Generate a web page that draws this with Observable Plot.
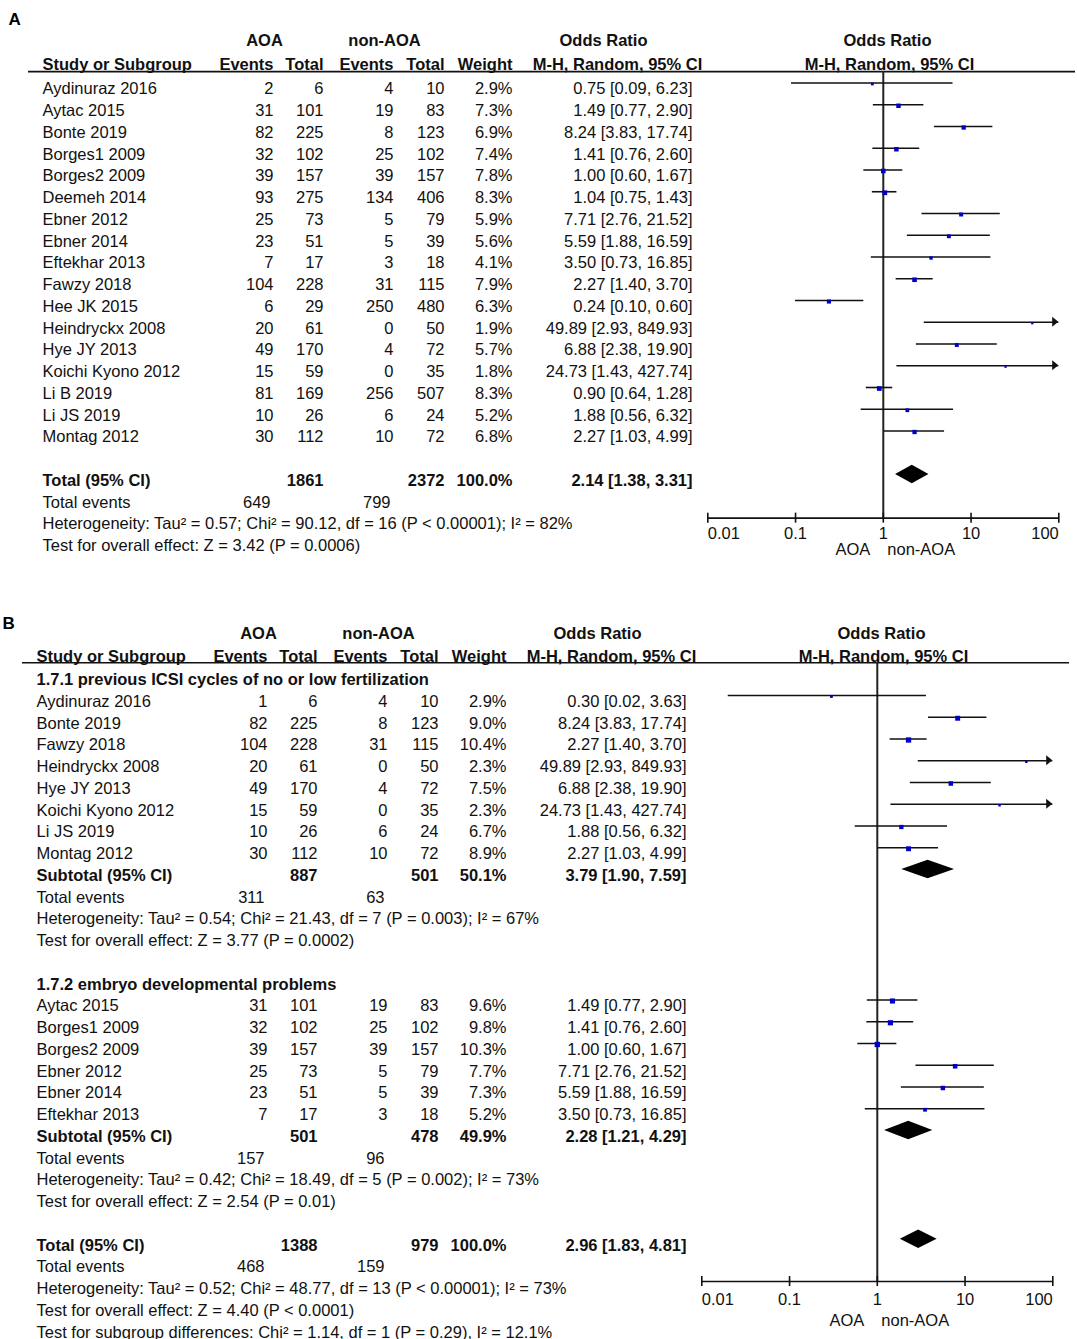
<!DOCTYPE html>
<html><head><meta charset="utf-8">
<script src="https://cdn.jsdelivr.net/npm/d3@7"></script>
<script src="https://cdn.jsdelivr.net/npm/@observablehq/plot@0.6"></script>
<style>
body{margin:0;background:#fff;}
#root{position:relative;width:1077px;height:1339px;overflow:hidden;}
.layer{position:absolute;}
.layer svg{display:block;}
</style></head><body><div id="root"></div>
<script>
// ---------------- DATA ----------------
// Panel A
const studiesA = ["Aydinuraz 2016","Aytac 2015","Bonte 2019","Borges1 2009","Borges2 2009","Deemeh 2014","Ebner 2012","Ebner 2014","Eftekhar 2013","Fawzy 2018","Hee JK 2015","Heindryckx 2008","Hye JY 2013","Koichi Kyono 2012","Li B 2019","Li JS 2019","Montag 2012"];
const aoaEventsA = [2,31,82,32,39,93,25,23,7,104,6,20,49,15,81,10,30];
const aoaTotalA  = [6,101,225,102,157,275,73,51,17,228,29,61,170,59,169,26,112];
const nonEventsA = [4,19,8,25,39,134,5,5,3,31,250,0,4,0,256,6,10];
const nonTotalA  = [10,83,123,102,157,406,79,39,18,115,480,50,72,35,507,24,72];
const weightA    = [2.9,7.3,6.9,7.4,7.8,8.3,5.9,5.6,4.1,7.9,6.3,1.9,5.7,1.8,8.3,5.2,6.8];
const orA        = [0.75,1.49,8.24,1.41,1.00,1.04,7.71,5.59,3.50,2.27,0.24,49.89,6.88,24.73,0.90,1.88,2.27];
const lowerA     = [0.09,0.77,3.83,0.76,0.60,0.75,2.76,1.88,0.73,1.40,0.10,2.93,2.38,1.43,0.64,0.56,1.03];
const upperA     = [6.23,2.90,17.74,2.60,1.67,1.43,21.52,16.59,16.85,3.70,0.60,849.93,19.90,427.74,1.28,6.32,4.99];
const totalA = {total1:1861, total2:2372, weight:100.0, or:2.14, lo:1.38, hi:3.31, events1:649, events2:799};
const hetA  = "Heterogeneity: Tau² = 0.57; Chi² = 90.12, df = 16 (P < 0.00001); I² = 82%";
const testA = "Test for overall effect: Z = 3.42 (P = 0.0006)";

// Panel B, subgroup 1.7.1
const groupB1 = "1.7.1 previous ICSI cycles of no or low fertilization";
const studiesB1 = ["Aydinuraz 2016","Bonte 2019","Fawzy 2018","Heindryckx 2008","Hye JY 2013","Koichi Kyono 2012","Li JS 2019","Montag 2012"];
const aoaEventsB1 = [1,82,104,20,49,15,10,30];
const aoaTotalB1  = [6,225,228,61,170,59,26,112];
const nonEventsB1 = [4,8,31,0,4,0,6,10];
const nonTotalB1  = [10,123,115,50,72,35,24,72];
const weightB1    = [2.9,9.0,10.4,2.3,7.5,2.3,6.7,8.9];
const orB1        = [0.30,8.24,2.27,49.89,6.88,24.73,1.88,2.27];
const lowerB1     = [0.02,3.83,1.40,2.93,2.38,1.43,0.56,1.03];
const upperB1     = [3.63,17.74,3.70,849.93,19.90,427.74,6.32,4.99];
const subB1 = {total1:887, total2:501, weight:50.1, or:3.79, lo:1.90, hi:7.59, events1:311, events2:63};
const hetB1  = "Heterogeneity: Tau² = 0.54; Chi² = 21.43, df = 7 (P = 0.003); I² = 67%";
const testB1 = "Test for overall effect: Z = 3.77 (P = 0.0002)";

// Panel B, subgroup 1.7.2
const groupB2 = "1.7.2 embryo developmental problems";
const studiesB2 = ["Aytac 2015","Borges1 2009","Borges2 2009","Ebner 2012","Ebner 2014","Eftekhar 2013"];
const aoaEventsB2 = [31,32,39,25,23,7];
const aoaTotalB2  = [101,102,157,73,51,17];
const nonEventsB2 = [19,25,39,5,5,3];
const nonTotalB2  = [83,102,157,79,39,18];
const weightB2    = [9.6,9.8,10.3,7.7,7.3,5.2];
const orB2        = [1.49,1.41,1.00,7.71,5.59,3.50];
const lowerB2     = [0.77,0.76,0.60,2.76,1.88,0.73];
const upperB2     = [2.90,2.60,1.67,21.52,16.59,16.85];
const subB2 = {total1:501, total2:478, weight:49.9, or:2.28, lo:1.21, hi:4.29, events1:157, events2:96};
const hetB2  = "Heterogeneity: Tau² = 0.42; Chi² = 18.49, df = 5 (P = 0.002); I² = 73%";
const testB2 = "Test for overall effect: Z = 2.54 (P = 0.01)";

const totalB = {total1:1388, total2:979, weight:100.0, or:2.96, lo:1.83, hi:4.81, events1:468, events2:159};
const hetB  = "Heterogeneity: Tau² = 0.52; Chi² = 48.77, df = 13 (P < 0.00001); I² = 73%";
const testB = "Test for overall effect: Z = 4.40 (P < 0.0001)";
const subgroupB = "Test for subgroup differences: Chi² = 1.14, df = 1 (P = 0.29), I² = 12.1%";

const tickValues = [0.01, 0.1, 1, 10, 100];
const tickLabels = ["0.01", "0.1", "1", "10", "100"];
const favourLeft = "AOA", favourRight = "non-AOA";

// ---------------- LAYOUT ----------------
const FONT = "Liberation Sans, Arial, Helvetica, sans-serif";
const FS = 16.5;
const STEP = 21.75;
const C = {label:42, ev1:273, tot1:323, ev2:393, tot2:444, wt:512, or:692,
           ev1t:270, ev2t:390, grp1:264, grp2:384, orHead:603, mh:617, fHead:887, fmh:889,
           panel:8, lineL:28, lineR:1075};
const XRANGE = [707.3, 1058.3];
const BLUE = "#0000c8";

function fmt2(v){ return v.toFixed(2); }
function orText(o, l, h){ return `${fmt2(o)} [${fmt2(l)}, ${fmt2(h)}]`; }

function studyRows(names, e1, t1, e2, t2, w, o, l, h, startRow){
  return names.map((n, i) => ({row: startRow + i, name: n, e1: e1[i], t1: t1[i], e2: e2[i], t2: t2[i], w: w[i], or: o[i], lo: l[i], hi: h[i]}));
}

function buildPanel(P){
  const cells = [];
  const add = (row, col, text, anchor, bold) => cells.push({row, col, text: String(text), anchor, bold});
  // headers
  add(P.h1, "grp1", "AOA", "middle", true);
  add(P.h1, "grp2", "non-AOA", "middle", true);
  add(P.h1, "orHead", "Odds Ratio", "middle", true);
  add(P.h1, "fHead", "Odds Ratio", "middle", true);
  add(P.h2, "label", "Study or Subgroup", "start", true);
  add(P.h2, "ev1", "Events", "end", true);
  add(P.h2, "tot1", "Total", "end", true);
  add(P.h2, "ev2", "Events", "end", true);
  add(P.h2, "tot2", "Total", "end", true);
  add(P.h2, "wt", "Weight", "end", true);
  add(P.h2, "mh", "M-H, Random, 95% CI", "middle", true);
  add(P.h2, "fmh", "M-H, Random, 95% CI", "middle", true);
  for (const g of P.groupHeaders) add(g.row, "label", g.text, "start", true);
  for (const s of P.studies){
    add(s.row, "label", s.name, "start", false);
    add(s.row, "ev1", s.e1, "end", false);
    add(s.row, "tot1", s.t1, "end", false);
    add(s.row, "ev2", s.e2, "end", false);
    add(s.row, "tot2", s.t2, "end", false);
    add(s.row, "wt", s.w.toFixed(1) + "%", "end", false);
    add(s.row, "or", orText(s.or, s.lo, s.hi), "end", false);
  }
  for (const t of P.totals){
    add(t.row, "label", t.label, "start", true);
    add(t.row, "tot1", t.d.total1, "end", true);
    add(t.row, "tot2", t.d.total2, "end", true);
    add(t.row, "wt", t.d.weight.toFixed(1) + "%", "end", true);
    add(t.row, "or", orText(t.d.or, t.d.lo, t.d.hi), "end", true);
    add(t.row + 1, "label", "Total events", "start", false);
    add(t.row + 1, "ev1t", t.d.events1, "end", false);
    add(t.row + 1, "ev2t", t.d.events2, "end", false);
  }
  for (const n of P.notes) add(n.row, "label", n.text, "start", false);

  const yDomain = [-P.base / STEP, (P.height - P.base) / STEP];
  const yScale = {type: "linear", domain: yDomain, range: [0, P.height], axis: null};
  const textMarks = [];
  for (const anchor of ["start", "middle", "end"]) for (const bold of [false, true]) {
    const sub = cells.filter(c => c.anchor === anchor && c.bold === bold);
    if (sub.length) textMarks.push(Plot.text(sub, {x: d => C[d.col], y: "row", text: "text", textAnchor: anchor,
      fontWeight: bold ? "bold" : "normal", fontSize: FS, fill: "#111"}));
  }
  const table = Plot.plot({
    width: 1077, height: P.height, margin: 0,
    style: {fontFamily: FONT, background: "transparent", overflow: "visible"},
    x: {type: "linear", domain: [0, 1077], range: [0, 1077], axis: null},
    y: yScale,
    marks: [
      ...textMarks,
      Plot.text([P.letter], {x: () => C.panel, y: () => P.letterRow, text: d => d, textAnchor: "start", fontWeight: "bold", fontSize: 17}),
      Plot.ruleY([P.lineRow], {x1: () => C.lineL, x2: () => C.lineR, y: d => d, stroke: "#111", strokeWidth: 1.6})
    ]
  });

  // forest
  const dyLine = -6;
  const arrows = [];
  P.studies.filter(s => s.hi > 100).forEach((s, i) => {
    arrows.push({id: s.row, x: 100 / Math.pow(10, 0.07), y1: s.row - 0.23, y2: s.row + 0.23});
    arrows.push({id: s.row, x: 100, y1: s.row, y2: s.row});
  });
  const diamonds = [];
  P.totals.forEach(t => {
    diamonds.push({id: t.row, x: t.d.lo, y1: t.row, y2: t.row});
    diamonds.push({id: t.row, x: t.d.or, y1: t.row - 0.42, y2: t.row + 0.42});
    diamonds.push({id: t.row, x: t.d.hi, y1: t.row, y2: t.row});
  });
  const ticks = tickValues.map((v, i) => ({v, label: tickLabels[i], i}));
  const last = ticks.length - 1;
  const tickText = (filter, anchor) => Plot.text(ticks.filter(filter), {x: "v", y: () => P.tickRow, text: "label", textAnchor: anchor, fontSize: FS, fill: "#111"});
  const forest = Plot.plot({
    width: 1077, height: P.height, margin: 0,
    style: {fontFamily: FONT, background: "transparent", overflow: "visible"},
    x: {type: "log", domain: [0.01, 100], range: XRANGE, axis: null},
    y: yScale,
    r: {type: "sqrt", domain: [0, 10.4], range: [0, 3]},
    marks: [
      Plot.ruleX([1], {x: d => d, y1: () => P.lineRow, y2: () => P.axisRow, stroke: "#222", strokeWidth: 2}),
      Plot.ruleY(P.studies, {x1: "lo", x2: d => Math.min(d.hi, 100), y: "row", dy: dyLine, stroke: "#111", strokeWidth: 1.6}),
      Plot.areaY(arrows, {x: "x", y1: "y1", y2: "y2", z: "id", fill: "#111", dy: dyLine, curve: "linear"}),
      Plot.dot(P.studies, {x: "or", y: "row", r: "w", symbol: "square", fill: BLUE, dy: dyLine + 1}),
      Plot.areaY(diamonds, {x: "x", y1: "y1", y2: "y2", z: "id", fill: "#000", dy: dyLine, curve: "linear"}),
      Plot.ruleY([P.axisRow], {x1: () => tickValues[0], x2: () => tickValues[last], y: d => d, stroke: "#111", strokeWidth: 1.6}),
      Plot.ruleX(ticks, {x: "v", y1: () => P.axisRow - 5 / STEP, y2: () => P.axisRow + 5 / STEP, stroke: "#111", strokeWidth: 1.6}),
      tickText(d => d.i === 0, "start"),
      tickText(d => d.i > 0 && d.i < last, "middle"),
      tickText(d => d.i === last, "end"),
      Plot.text([favourLeft], {x: () => 1, y: () => P.favRow, text: d => d, textAnchor: "end", dx: -13, fontSize: FS, fill: "#111"}),
      Plot.text([favourRight], {x: () => 1, y: () => P.favRow, text: d => d, textAnchor: "start", dx: 4, fontSize: FS, fill: "#111"})
    ]
  });
  return [table, forest];
}

// Panel A rows
const sA = studyRows(studiesA, aoaEventsA, aoaTotalA, nonEventsA, nonTotalA, weightA, orA, lowerA, upperA, 0);
const panelA = {
  letter: "A", letterRow: -3.2, h1: -2.2, h2: -1.12, lineRow: -0.8,
  base: 88.5, height: 590, top: 0, left: 0,
  studies: sA, groupHeaders: [],
  totals: [{row: 18, label: "Total (95% CI)", d: totalA}],
  notes: [{row: 20, text: hetA}, {row: 21, text: testA}],
  axisRow: 19.73, tickRow: 20.45, favRow: 21.2
};
// Panel B rows
const sB1 = studyRows(studiesB1, aoaEventsB1, aoaTotalB1, nonEventsB1, nonTotalB1, weightB1, orB1, lowerB1, upperB1, 0);
const sB2 = studyRows(studiesB2, aoaEventsB2, aoaTotalB2, nonEventsB2, nonTotalB2, weightB2, orB2, lowerB2, upperB2, 14);
const panelB = {
  letter: "B", letterRow: -3.6, h1: -3.12, h2: -2.06, lineRow: -1.78,
  base: 106, height: 744, top: 595, left: -5.6,
  studies: [...sB1, ...sB2],
  groupHeaders: [{row: -1, text: groupB1}, {row: 13, text: groupB2}],
  totals: [{row: 8, label: "Subtotal (95% CI)", d: subB1}, {row: 20, label: "Subtotal (95% CI)", d: subB2}, {row: 25, label: "Total (95% CI)", d: totalB}],
  notes: [{row: 10, text: hetB1}, {row: 11, text: testB1}, {row: 22, text: hetB2}, {row: 23, text: testB2},
          {row: 27, text: hetB}, {row: 28, text: testB}, {row: 29, text: subgroupB}],
  axisRow: 26.67, tickRow: 27.5, favRow: 28.45
};

const root = document.getElementById("root");
for (const P of [panelA, panelB]) {
  for (const svg of buildPanel(P)) {
    const div = document.createElement("div");
    div.className = "layer";
    div.style.top = P.top + "px";
    div.style.left = P.left + "px";
    div.appendChild(svg);
    root.appendChild(div);
  }
}
</script>
</body></html>
